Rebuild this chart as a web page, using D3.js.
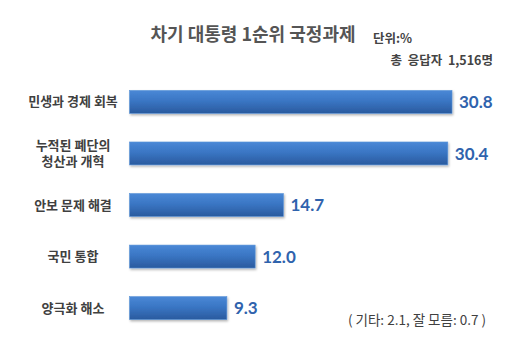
<!DOCTYPE html>
<html><head><meta charset="utf-8">
<script src="https://cdn.jsdelivr.net/npm/d3@7"></script>
<style>
html,body{margin:0;padding:0;background:#fff;}
svg{display:block;}
</style></head>
<body>
<svg id="chart" width="519" height="350"></svg>
<script>
const categories = ["민생과 경제 회복", "누적된 폐단의\n청산과 개혁", "안보 문제 해결", "국민 통합", "양극화 해소"];
const values = [30.8, 30.4, 14.7, 12.0, 9.3];
const valueLabels = ["30.8", "30.4", "14.7", "12.0", "9.3"];
const titleText = "차기 대통령 1순위 국정과제";
const unitText = "단위:%";
const sampleText = "총  응답자  1,516명";
const noteText = "( 기타: 2.1, 잘 모름: 0.7 )";

const svg = d3.select("#chart");
const kr = "'Noto Sans CJK KR', 'Noto Sans', sans-serif";

const defs = svg.append("defs");
const grad = defs.append("linearGradient").attr("id","barGrad").attr("x1",0).attr("y1",0).attr("x2",0).attr("y2",1);
grad.append("stop").attr("offset","0%").attr("stop-color","#4a88d6");
grad.append("stop").attr("offset","45%").attr("stop-color","#3a76c4");
grad.append("stop").attr("offset","100%").attr("stop-color","#2a5a9e");
const flt = defs.append("filter").attr("id","shadow").attr("x","-5%").attr("y","-20%").attr("width","110%").attr("height","160%");
flt.append("feDropShadow").attr("dx",1).attr("dy",1.5).attr("stdDeviation",1.2).attr("flood-color","#000").attr("flood-opacity",0.3);

const x = d3.scaleLinear().domain([0, 30.8]).range([129.5, 452]);
const y = d3.scaleBand().domain(categories).range([76, 334]).paddingInner(0.555).paddingOuter(0.28);

svg.append("g").selectAll("rect").data(values).join("rect")
  .attr("x", x(0))
  .attr("y", (d,i) => y(categories[i]))
  .attr("width", d => x(d) - x(0))
  .attr("height", y.bandwidth())
  .attr("fill", "url(#barGrad)")
  .attr("stroke", "#5b94d8").attr("stroke-width", 0.6)
  .attr("filter", "url(#shadow)");

svg.append("g").selectAll("text").data(values).join("text")
  .attr("x", d => x(d) + 7)
  .attr("y", (d,i) => y(categories[i]) + y.bandwidth()/2)
  .attr("dy", "0.36em")
  .attr("font-family", "Lato, 'Open Sans', sans-serif")
  .attr("font-weight", "bold")
  .attr("font-size", 17)
  .attr("fill", "#2f63ad")
  .text((d,i) => valueLabels[i]);

const fs = 13;
const lab = svg.append("g").selectAll("text").data(categories).join("text")
  .attr("x", 73)
  .attr("y", d => y(d) + y.bandwidth()/2)
  .attr("text-anchor", "middle")
  .attr("font-family", kr)
  .attr("font-weight", "bold")
  .attr("font-size", fs)
  .attr("fill", "#404040");
lab.each(function(d){
  const lines = d.split("\n");
  const t = d3.select(this);
  const lh = 16;
  lines.forEach((ln,j) => {
    t.append("tspan").attr("x", 73)
      .attr("dy", j === 0 ? (0.35*fs - (lines.length-1)*lh/2) : lh)
      .text(ln);
  });
});

svg.append("text").attr("x", 253).attr("y", 41).attr("text-anchor","middle")
  .attr("font-family", kr).attr("font-weight","bold").attr("font-size", 18)
  .attr("fill", "#555").text(titleText);
svg.append("text").attr("x", 373).attr("y", 42.5)
  .attr("font-family", kr).attr("font-weight","bold").attr("font-size", 12.5)
  .attr("fill", "#444").text(unitText);
svg.append("text").attr("x", 493).attr("y", 64.5).attr("text-anchor","end")
  .attr("xml:space","preserve").style("white-space","pre")
  .attr("font-family", kr).attr("font-weight","bold").attr("font-size", 12.5)
  .attr("fill", "#444").text(sampleText);
svg.append("text").attr("x", 417).attr("y", 324.5).attr("text-anchor","middle")
  .attr("font-family", kr).attr("font-size", 13.5)
  .attr("fill", "#404040").text(noteText);
</script>
</body></html>
